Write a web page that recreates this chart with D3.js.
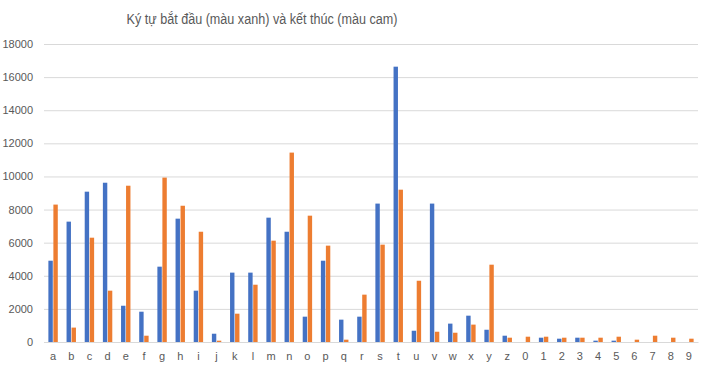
<!DOCTYPE html>
<html>
<head>
<meta charset="utf-8">
<script src="https://cdn.jsdelivr.net/npm/d3@7"></script>
<style>
  body { margin: 0; background: #fff; }
  svg { display: block; font-family: "Liberation Sans", Arial, sans-serif; }
</style>
</head>
<body>
<svg id="chart" width="704" height="372"></svg>
<script>
// categories (first / last character)
var categories = ["a","b","c","d","e","f","g","h","i","j","k","l","m","n","o","p","q","r","s","t","u","v","w","x","y","z","0","1","2","3","4","5","6","7","8","9"];
// starting character counts (blue)
var startCounts = [4910,7270,9080,9620,2190,1830,4550,7450,3100,500,4190,4190,7510,6660,1530,4910,1350,1530,8360,16630,680,8360,1110,1590,740,380,0,260,200,260,80,80,0,0,0,0];
// ending character counts (orange)
var endCounts = [8300,870,6300,3100,9440,380,9930,8230,6660,80,1710,3460,6120,11440,7630,5820,140,2860,5880,9200,3700,620,560,1050,4670,260,320,320,260,260,260,320,140,380,260,200];
var yTicks = [0,2000,4000,6000,8000,10000,12000,14000,16000,18000];
var title = "Ký tự bắt đầu (màu xanh) và kết thúc (màu cam)";

var series = ["start", "end"];
var colors = { start: "#4472C4", end: "#ED7D31" };

var svg = d3.select("#chart"),
    margin = { top: 44, right: 6, bottom: 30, left: 44 },
    width = 704 - margin.left - margin.right,
    height = 342 - margin.top;

var g = svg.append("g").attr("transform", "translate(" + margin.left + "," + margin.top + ")");

var x0 = d3.scaleBand().domain(categories).range([0, width]).padding(0);
var bw = x0.bandwidth();
var x1 = d3.scaleBand().domain(series).range([bw / 2 - 4.7, bw / 2 + 4.7]).paddingInner(0.12);

var y = d3.scaleLinear().domain([0, 18000]).range([height, 0]);

// gridlines
g.append("g")
    .call(d3.axisLeft(y).tickValues(yTicks).tickSize(-width).tickFormat(""))
    .call(function(a) { a.select(".domain").remove(); })
    .selectAll("line")
    .attr("stroke", "#d9d9d9");

// y labels
g.append("g")
    .call(d3.axisLeft(y).tickValues(yTicks).tickSize(0).tickPadding(11).tickFormat(d3.format("d")))
    .call(function(a) { a.select(".domain").remove(); })
    .selectAll("text")
    .attr("fill", "#595959")
    .style("font-size", "11px")
    .style("font-family", "'Liberation Sans', Arial, sans-serif");

// bars
var rows = categories.map(function(c, i) { return { cat: c, start: startCounts[i], end: endCounts[i] }; });

var groups = g.append("g").selectAll("g")
    .data(rows)
    .enter().append("g")
    .attr("transform", function(d) { return "translate(" + x0(d.cat) + ",0)"; });

groups.selectAll("rect")
    .data(function(d) { return series.map(function(s) { return { key: s, value: d[s] }; }); })
    .enter().append("rect")
    .attr("x", function(d) { return x1(d.key); })
    .attr("width", x1.bandwidth())
    .attr("y", function(d) { return y(d.value); })
    .attr("height", function(d) { return height - y(d.value); })
    .attr("fill", function(d) { return colors[d.key]; });

// x axis
g.append("g")
    .attr("transform", "translate(0," + height + ")")
    .call(d3.axisBottom(x0).tickSize(0).tickPadding(10))
    .call(function(a) { a.select(".domain").attr("stroke", "#d9d9d9"); })
    .selectAll("text")
    .attr("fill", "#595959")
    .style("font-size", "11px")
    .style("font-family", "'Liberation Sans', Arial, sans-serif");

// title
svg.append("text")
    .attr("x", 262)
    .attr("y", 24)
    .attr("text-anchor", "middle")
    .attr("fill", "#595959")
    .style("font-size", "14px")
    .attr("textLength", 271)
    .attr("lengthAdjust", "spacingAndGlyphs")
    .text(title);
</script>
</body>
</html>
